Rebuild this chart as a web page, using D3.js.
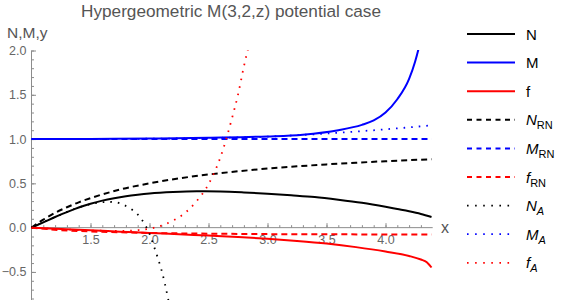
<!DOCTYPE html>
<html>
<head>
<meta charset="utf-8">
<script src="https://cdn.jsdelivr.net/npm/d3@7"></script>
<style>
  body { margin: 0; background: #fff; }
  svg { display: block; font-family: "Liberation Sans", Arial, sans-serif; }
</style>
</head>
<body>
<svg id="chart" width="564" height="300"></svg>
<script>
// ---- data ----
const nData   = [[1.0,0],[1.1,0.06],[1.2,0.12],[1.3,0.175],[1.4,0.228],[1.5,0.27],[1.6,0.305],[1.7,0.332],[1.8,0.354],[1.9,0.371],[2.0,0.385],[2.2,0.402],[2.4,0.41],[2.6,0.408],[2.8,0.398],[3.0,0.383],[3.2,0.365],[3.4,0.345],[3.6,0.315],[3.8,0.28],[4.0,0.235],[4.1,0.21],[4.2,0.185],[4.3,0.155],[4.39,0.12]];
const mData   = [[1.0,1.0],[1.5,1.002],[2.0,1.006],[2.5,1.015],[3.0,1.03],[3.3,1.05],[3.6,1.1],[3.8,1.16],[3.9,1.21],[4.0,1.3],[4.1,1.45],[4.2,1.68],[4.25,1.87],[4.28,2.02],[4.3,2.15]];
const fData   = [[1.0,0],[1.25,-0.016],[1.5,-0.03],[1.75,-0.045],[2.0,-0.06],[2.25,-0.075],[2.5,-0.09],[2.75,-0.105],[3.0,-0.125],[3.25,-0.15],[3.5,-0.18],[3.75,-0.22],[4.0,-0.27],[4.2,-0.32],[4.3,-0.36],[4.35,-0.39],[4.39,-0.45]];
const nRNData = [[1.0,0],[1.1,0.09],[1.2,0.167],[1.3,0.23],[1.4,0.286],[1.5,0.333],[1.75,0.43],[2.0,0.5],[2.25,0.556],[2.5,0.6],[2.75,0.636],[3.0,0.667],[3.25,0.692],[3.5,0.714],[3.75,0.733],[4.0,0.75],[4.2,0.762],[4.39,0.772]];
const mRNData = [[1.0,1.0],[2.0,1.0],[3.0,1.0],[4.0,1.0],[4.39,1.0]];
const fRNData = [[1.0,0],[1.25,-0.028],[1.5,-0.043],[1.75,-0.053],[2.0,-0.06],[2.5,-0.068],[3.0,-0.073],[3.5,-0.075],[4.0,-0.077],[4.39,-0.078]];
const nAData  = [[1.0,0],[1.2,0.12],[1.4,0.228],[1.5,0.265],[1.6,0.288],[1.7,0.29],[1.75,0.275],[1.8,0.245],[1.85,0.205],[1.9,0.15],[1.95,0.06],[2.0,-0.07],[2.04,-0.22],[2.07,-0.34],[2.1,-0.47],[2.13,-0.63],[2.16,-0.82]];
const mAData  = [[1.0,1.0],[1.5,1.001],[2.0,1.004],[2.5,1.012],[3.0,1.028],[3.5,1.063],[4.0,1.11],[4.39,1.155]];
const fAData  = [[1.0,0],[1.25,-0.018],[1.5,-0.032],[1.75,-0.038],[1.9,-0.028],[2.0,-0.012],[2.1,0.022],[2.2,0.08],[2.3,0.165],[2.4,0.3],[2.5,0.49],[2.6,0.79],[2.7,1.24],[2.75,1.5],[2.8,1.82],[2.85,2.1]];

const xMajor = [1.5, 2.0, 2.5, 3.0, 3.5, 4.0];
const yMajor = [-0.5, 0.0, 0.5, 1.0, 1.5, 2.0];
const xMinor = d3.range(11, 44).map(d => d / 10);
const yMinor = d3.range(-8, 21).map(d => d / 10);

const series = [
  { name: "N",   data: nData,   color: "#000000", dash: null,     width: 2 },
  { name: "M",   data: mData,   color: "#0000ff", dash: null,     width: 2 },
  { name: "f",   data: fData,   color: "#ff0000", dash: null,     width: 2 },
  { name: "NRN", data: nRNData, color: "#000000", dash: "6,4",    width: 2 },
  { name: "MRN", data: mRNData, color: "#0000ff", dash: "6,4",    width: 2 },
  { name: "fRN", data: fRNData, color: "#ff0000", dash: "6,4",    width: 2 },
  { name: "NA",  data: nAData,  color: "#000000", dash: "1.6,6",  width: 1.8 },
  { name: "MA",  data: mAData,  color: "#0000ff", dash: "1.6,6",  width: 1.8 },
  { name: "fA",  data: fAData,  color: "#ff0000", dash: "1.6,6",  width: 1.8 }
];

// ---- layout ----
const svg = d3.select("#chart");
const x = d3.scaleLinear().domain([1, 4.4]).range([31.5, 432.7]);
const y = d3.scaleLinear().domain([-0.8, 2.0]).range([298.5, 50.5]);

const axisGray = "#8c8c8c";
const labelGray = "#666666";

svg.append("defs").append("clipPath").attr("id", "clip")
  .append("rect").attr("x", 31).attr("y", 50).attr("width", 403).attr("height", 250);

// x axis
const xAxisG = svg.append("g").attr("transform", `translate(0,${y(0)})`);
xAxisG.append("g").call(d3.axisBottom(x).tickValues(xMinor).tickSizeInner(-2.5).tickSizeOuter(0).tickFormat(""))
  .call(g => g.select(".domain").remove());
xAxisG.append("g").call(d3.axisBottom(x).tickValues(xMajor).tickSizeInner(-4.5).tickSizeOuter(0).tickPadding(7)
    .tickFormat(d3.format(".1f")))
  .call(g => g.select(".domain").remove());
xAxisG.append("line").attr("x1", x(1)).attr("x2", x(4.4)).attr("y1", 0).attr("y2", 0);
xAxisG.selectAll("line").attr("stroke", axisGray).attr("stroke-width", 1);
xAxisG.selectAll("text").attr("fill", labelGray).attr("font-size", 12.5)
  .attr("font-family", "Liberation Sans, Arial, sans-serif");

// y axis
const yAxisG = svg.append("g").attr("transform", `translate(${x(1)},0)`);
yAxisG.append("g").call(d3.axisLeft(y).tickValues(yMinor).tickSizeInner(-2.5).tickSizeOuter(0).tickFormat(""))
  .call(g => g.select(".domain").remove());
yAxisG.append("g").call(d3.axisLeft(y).tickValues(yMajor).tickSizeInner(-4.5).tickSizeOuter(0).tickPadding(5)
    .tickFormat(d => d3.format(".1f")(d).replace("-", "\u2212")))
  .call(g => g.select(".domain").remove());
yAxisG.append("line").attr("x1", 0).attr("x2", 0).attr("y1", y(2.0)).attr("y2", 300);
yAxisG.selectAll("line").attr("stroke", axisGray).attr("stroke-width", 1);
yAxisG.selectAll("text").attr("fill", labelGray).attr("font-size", 12.5)
  .attr("font-family", "Liberation Sans, Arial, sans-serif");

// curves
const line = d3.line().x(d => x(d[0])).y(d => y(d[1])).curve(d3.curveMonotoneX);
const plotG = svg.append("g").attr("clip-path", "url(#clip)");
series.forEach(s => {
  plotG.append("path").datum(s.data)
    .attr("d", line)
    .attr("fill", "none")
    .attr("stroke", s.color)
    .attr("stroke-width", s.width)
    .attr("stroke-dasharray", s.dash)
    .attr("stroke-linejoin", "round");
});

// title and axis labels
svg.append("text").attr("x", 231).attr("y", 17).attr("text-anchor", "middle")
  .attr("font-size", 17.2).attr("fill", "#555").text("Hypergeometric M(3,2,z) potential case");
svg.append("text").attr("x", 7).attr("y", 38)
  .attr("font-size", 15.5).attr("fill", "#555").text("N,M,y");
svg.append("text").attr("x", 441).attr("y", 233)
  .attr("font-size", 16).attr("fill", "#555").text("x");

// legend
const legendLabels = [
  { main: "N", sub: null, italic: false, subItalic: false },
  { main: "M", sub: null, italic: false, subItalic: false },
  { main: "f", sub: null, italic: false, subItalic: false },
  { main: "N", sub: "RN", italic: true, subItalic: false },
  { main: "M", sub: "RN", italic: true, subItalic: false },
  { main: "f", sub: "RN", italic: true, subItalic: false },
  { main: "N", sub: "A", italic: true, subItalic: true },
  { main: "M", sub: "A", italic: true, subItalic: true },
  { main: "f", sub: "A", italic: true, subItalic: true }
];
const leg = svg.append("g");
series.forEach((s, i) => {
  const yy = 34 + i * 28.6;
  leg.append("line").attr("x1", 467).attr("x2", 515).attr("y1", yy).attr("y2", yy)
    .attr("stroke", s.color).attr("stroke-width", s.width)
    .attr("stroke-dasharray", s.dash === "1.6,6" ? "1.6,6.5" : (s.dash ? "5,4.5" : null));
  const lab = legendLabels[i];
  const t = leg.append("text").attr("x", 526).attr("y", yy + 5.5).attr("font-size", 15).attr("fill", "#000");
  t.append("tspan").attr("font-style", lab.italic ? "italic" : "normal").text(lab.main);
  if (lab.sub) {
    t.append("tspan").attr("font-size", 11).attr("dy", 4)
      .attr("font-style", lab.subItalic ? "italic" : "normal").text(lab.sub);
  }
});
</script>
</body>
</html>
